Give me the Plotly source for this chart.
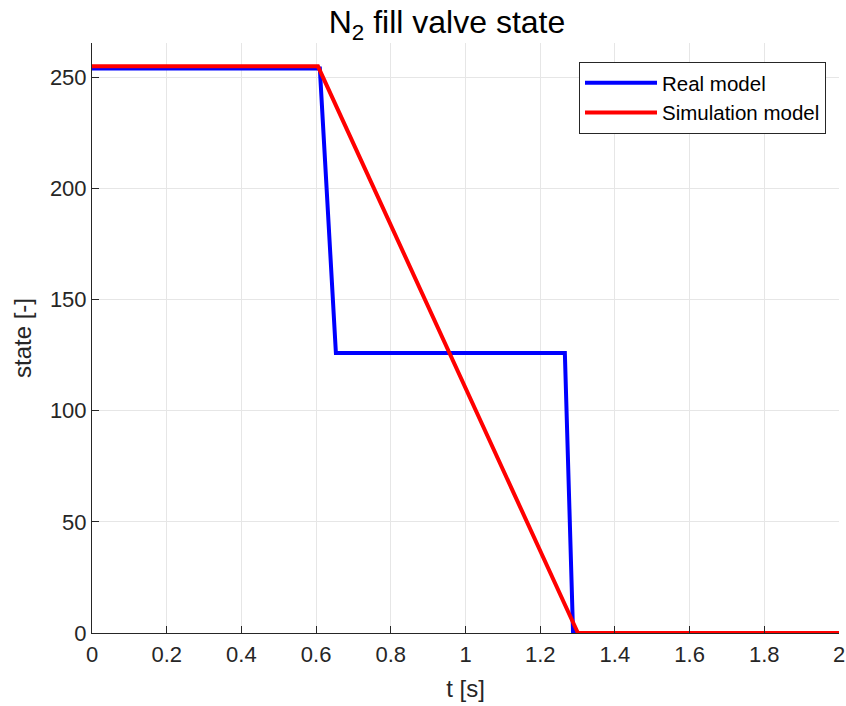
import plotly.graph_objects as go

t_real = [0, 0.61, 0.653, 1.266, 1.288, 2.0]
state_real = [254, 254, 126, 126, 0, 0]
t_sim = [0, 0.605, 1.301, 2.0]
state_sim = [255, 255, 0, 0]

x_ticks = [0, 0.2, 0.4, 0.6, 0.8, 1, 1.2, 1.4, 1.6, 1.8, 2]
x_labels = ["0", "0.2", "0.4", "0.6", "0.8", "1", "1.2", "1.4", "1.6", "1.8", "2"]
y_ticks = [0, 50, 100, 150, 200, 250]

font = "Liberation Sans, Arial, Helvetica, sans-serif"

fig = go.Figure()
fig.add_trace(go.Scatter(x=t_real, y=state_real, mode="lines", name="Real model",
                         line=dict(color="#0000ff", width=4)))
fig.add_trace(go.Scatter(x=t_sim, y=state_sim, mode="lines", name="Simulation model",
                         line=dict(color="#ff0000", width=4)))

fig.update_layout(
    width=846, height=706,
    margin=dict(l=92, r=7, t=43, b=73, autoexpand=False),
    paper_bgcolor="white", plot_bgcolor="white",
    font=dict(family=font, color="#262626", size=22),
    title=dict(text="N<sub>2</sub> fill valve state", x=447 / 846, xanchor="center",
               xref="container", yref="container",
               y=1 - 11 / 706, yanchor="top", font=dict(size=32, color="black")),
    legend=dict(x=0.9826, y=0.9678, xanchor="right", yanchor="top",
                bordercolor="#262626", borderwidth=1, bgcolor="white",
                font=dict(size=20.5, color="black"), itemwidth=72,
                tracegroupgap=0),
    showlegend=True,
)
fig.update_xaxes(range=[0, 2], tickvals=x_ticks, ticktext=x_labels,
                 showgrid=True, gridcolor="#e6e6e6", gridwidth=1,
                 showline=True, linecolor="#262626", linewidth=1,
                 ticks="inside", ticklen=7, tickcolor="#262626",
                 zeroline=False, automargin=False, ticklabeloverflow="allow",
                 ticklabelstandoff=2,
                 title=dict(text="t [s]", font=dict(size=24, color="#262626"), standoff=13))
fig.update_yaxes(range=[0, 265.5], tickvals=y_ticks,
                 showgrid=True, gridcolor="#e6e6e6", gridwidth=1,
                 showline=True, linecolor="#262626", linewidth=1,
                 ticks="inside", ticklen=7, tickcolor="#262626",
                 zeroline=False, automargin=False, ticklabeloverflow="allow",
                 title=dict(text="state [-]", font=dict(size=24, color="#262626"), standoff=11))

fig.write_html("out.html", post_script="document.body.style.margin='0';",
               config={"displayModeBar": False})
